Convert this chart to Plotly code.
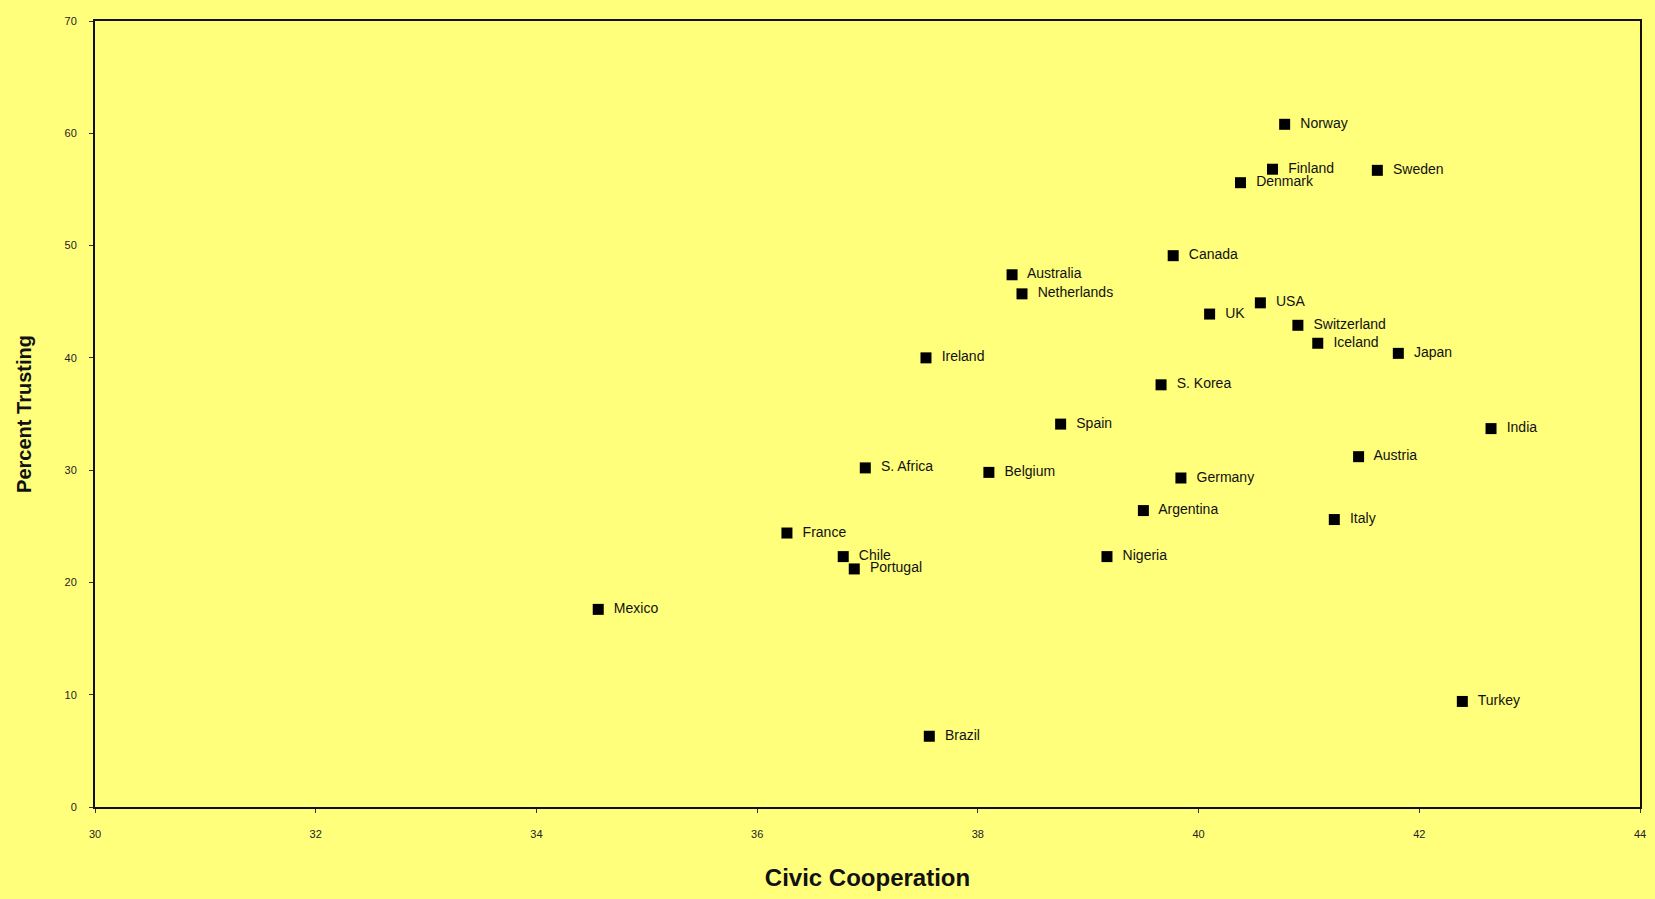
import plotly.graph_objects as go

countries = ["Norway", "Finland", "Sweden", "Denmark", "Canada", "Australia", "Netherlands",
             "UK", "USA", "Switzerland", "Iceland", "Japan", "Ireland", "S. Korea", "Spain",
             "India", "Austria", "S. Africa", "Belgium", "Germany", "Argentina", "Italy",
             "France", "Chile", "Nigeria", "Portugal", "Mexico", "Turkey", "Brazil"]
civic = [40.78, 40.67, 41.62, 40.38, 39.77, 38.31, 38.40,
         40.10, 40.56, 40.90, 41.08, 41.81, 37.53, 39.66, 38.75,
         42.65, 41.45, 36.98, 38.10, 39.84, 39.50, 41.23,
         36.27, 36.78, 39.17, 36.88, 34.56, 42.39, 37.56]
trust = [60.8, 56.8, 56.7, 55.6, 49.1, 47.4, 45.7,
         43.9, 44.9, 42.9, 41.3, 40.4, 40.0, 37.6, 34.1,
         33.7, 31.2, 30.2, 29.8, 29.3, 26.4, 25.6,
         24.4, 22.3, 22.3, 21.2, 17.6, 9.4, 6.3]

x_ticks = [30, 32, 34, 36, 38, 40, 42, 44]
y_ticks = [0, 10, 20, 30, 40, 50, 60, 70]

bg = "#FFFF7C"

fig = go.Figure(go.Scatter(
    x=civic, y=trust, mode="markers+text",
    text=["  " + c for c in countries], textposition="middle right",
    textfont=dict(family="Liberation Sans, Arial, sans-serif", size=14, color="#111"),
    marker=dict(symbol="square", size=11, color="black"),
    cliponaxis=False, hoverinfo="x+y+text", showlegend=False,
))

fig.update_layout(
    width=1655, height=899,
    paper_bgcolor=bg, plot_bgcolor=bg,
    margin=dict(l=95, r=9, t=21, b=92),
    font=dict(family="Liberation Sans, Arial, sans-serif", color="#222"),
    xaxis=dict(range=[30, 44], tickvals=x_ticks, showgrid=False, zeroline=False,
               showline=True, linecolor="#111", linewidth=2, mirror=True,
               ticks="outside", ticklen=4, tickcolor="#333", tickfont=dict(size=11),
               ticklabelstandoff=12,
               title=dict(text="<b>Civic Cooperation</b>", font=dict(size=24, color="#111"),
                          standoff=30)),
    yaxis=dict(range=[0, 70], tickvals=y_ticks, showgrid=False, zeroline=False,
               showline=True, linecolor="#111", linewidth=2, mirror=True,
               ticks="outside", ticklen=4, tickcolor="#333", tickfont=dict(size=11),
               ticklabelstandoff=10,
               title=dict(text="<b>Percent Trusting</b>", font=dict(size=20, color="#111"),
                          standoff=28)),
)

fig.write_html(
    "out.html",
    config={"displayModeBar": False},
    post_script="document.body.style.margin='0';document.body.style.overflow='hidden';"
                "document.body.style.background='" + bg + "';",
)
